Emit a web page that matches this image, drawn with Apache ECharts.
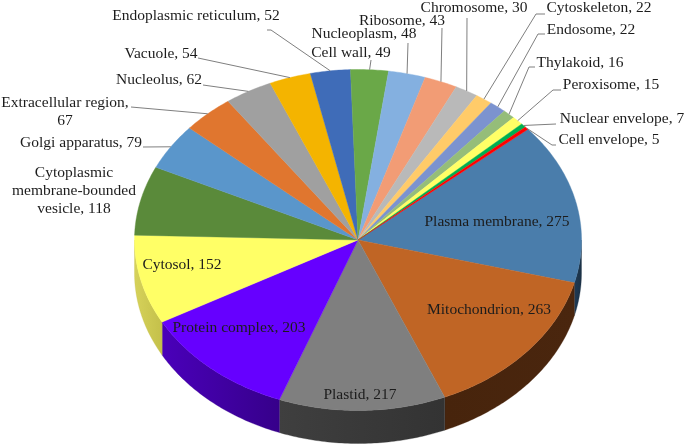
<!DOCTYPE html>
<html><head><meta charset="utf-8">
<style>html,body{margin:0;padding:0;background:#fff}#c{width:685px;height:447px}</style>
<script src="https://cdn.jsdelivr.net/npm/echarts@6/dist/echarts.min.js"></script>
</head><body><div id="c"></div>
<script>
const categories = ["Plasma membrane","Mitochondrion","Plastid","Protein complex","Cytosol",
  "Cytoplasmic\nmembrane-bounded\nvesicle","Golgi apparatus","Extracellular region","Nucleolus","Vacuole",
  "Endoplasmic reticulum","Cell wall","Nucleoplasm","Ribosome","Chromosome","Cytoskeleton","Endosome",
  "Thylakoid","Peroxisome","Nuclear envelope","Cell envelope"];
const values = [275,263,217,203,152,118,79,67,62,54,52,49,48,43,30,22,22,16,15,7,5];
const separators = {"Extracellular region":",\n"};

const topColors = ["#4a7dab","#c06525","#7f7f7f","#6600ff","#ffff66","#5a8a3a","#5a96cb","#e0762f","#a0a0a0","#f4b400",
  "#3f6cb8","#6aa848","#84b0e0","#f29c75","#b9b9b9","#ffcb69","#7c93cf","#95bd79","#ffff66","#00b050","#ff0000"];
const wallColors = [["#1b3145","#1f3a55"],["#4a260e","#47240c"],["#333333","#3f3f3f"],["#36008a","#4a00ba"],["#c4c04a","#d6d25a"]];
// label placement: text centre [x, y] and leader start / elbow
const labelCentres = [[497,222],[489,310],[360,395],[239,328],[182,265],[74,191],[81,143],[65,112],[159,80],[161,54],
  [196,16],[351,53],[364,34],[402,21],[474,8],[599,8],[591,30],[580,63],[611,85],[622,119],[609,140]];
const leaders = [null,null,null,null,null,null,[[143,147]],[[131,107]],[[203,85]],[[198,58]],
  [[267,30],[271,30]],[[371,60]],[[408,43]],[[442,28]],[[467,18]],[[545,14],[536,14]],[[545,34],[538,34]],
  [[535,67],[529,67]],[[561,90],[553,90]],[[556,124]],[[556,145],[552,145]]];

const CX = 358, CY = 240, RX = 223.5, RY = 170.5, DEPTH = 33, START = 49.5;
const total = values.reduce((a, b) => a + b, 0);
const pt = (deg, dy) => {
  const r = deg * Math.PI / 180;
  return [CX + RX * Math.sin(r), CY - RY * Math.cos(r) + (dy || 0)];
};
const arc = (a, b, dy) => {
  const out = [], n = Math.max(2, Math.ceil(Math.abs(b - a) / 0.75));
  for (let i = 0; i <= n; i++) out.push(pt(a + (b - a) * i / n, dy));
  return out;
};
const startAngles = [];
values.reduce((acc, v, i) => { startAngles[i] = acc; return acc + v / total * 360; }, START);

function renderItem(params, api) {
  const i = params.dataIndex, v = api.value(0);
  const a = startAngles[i], b = a + v / total * 360, mid = (a + b) / 2;
  const children = [];
  const w0 = Math.max(a, 90), w1 = Math.min(b, 270);
  if (w1 > w0 && wallColors[i]) {
    children.push({
      type: 'polygon', z2: 1,
      shape: { points: arc(w0, w1, 0).concat(arc(w1, w0, DEPTH)) },
      style: {
        fill: new echarts.graphic.LinearGradient(0, 0, 1, 0, [
          { offset: 0, color: wallColors[i][1] }, { offset: 1, color: wallColors[i][0] }]),
        stroke: wallColors[i][0], lineWidth: 0.3
      }
    });
  }
  children.push({
    type: 'polygon', z2: 2,
    shape: { points: [[CX, CY]].concat(arc(a, b, 0)) },
    style: { fill: topColors[i], stroke: topColors[i], lineWidth: 0.4 }
  });
  if (leaders[i]) {
    children.push({
      type: 'polyline', z2: 3,
      shape: { points: leaders[i].concat([pt(mid, 0)]) },
      style: { fill: null, stroke: '#7f7f7f', lineWidth: 1 }
    });
  }
  const sep = separators[categories[i]] || ', ';
  children.push({
    type: 'text', z2: 4,
    x: labelCentres[i][0], y: labelCentres[i][1],
    style: {
      text: categories[i] + sep + v,
      font: '15.5px "Liberation Serif"', fill: '#1c1c1c',
      align: 'center', verticalAlign: 'middle', lineHeight: 18
    }
  });
  return { type: 'group', children };
}

const chart = echarts.init(document.getElementById('c'), null, { renderer: 'canvas' });
chart.setOption({
  animation: false,
  backgroundColor: '#fff',
  series: [{
    type: 'custom', coordinateSystem: 'none', renderItem,
    data: values.map((v, i) => ({ name: categories[i], value: [v] })),
    silent: true, clip: false
  }]
});
</script></body></html>
